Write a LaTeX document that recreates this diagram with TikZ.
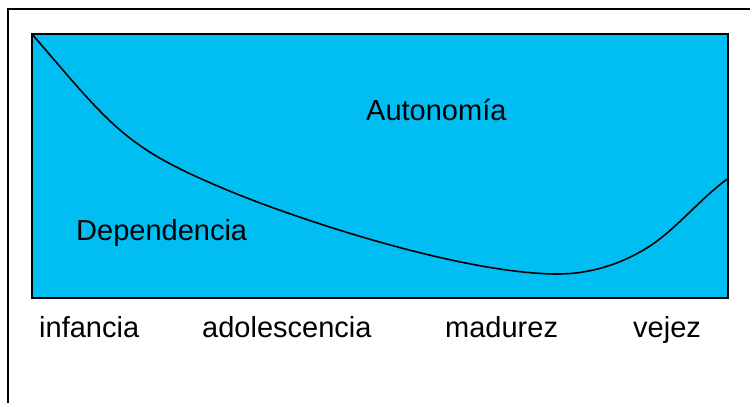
\documentclass[tikz,border=0pt]{standalone}
\usepackage{fontspec}
\setmainfont{Liberation Sans}
\definecolor{skyfill}{HTML}{00BEF2}
\begin{document}
\begin{tikzpicture}[x=1pt,y=-1pt,
  frame/.style={draw=black,line width=2pt},
  lbl/.style={anchor=base west,inner sep=0pt,font=\fontsize{29}{34}\selectfont}]
\useasboundingbox (0,0) rectangle (750,402);
\clip (0,0) rectangle (750,402);
\fill[white] (0,0) rectangle (750,402);
\draw[frame] (8,9) rectangle (770,420);
\draw[frame,fill=skyfill] (32,34) rectangle (728,298);
\draw[line width=1.6pt,line join=round]
  (32,34) .. controls (111,126) and (125,147) .. (220,187)
  .. controls (292,218) and (462,274) .. (558,274)
  .. controls (593,274) and (629,261.7) .. (657,241)
  .. controls (681,223.3) and (703.7,195.9) .. (728,178.5);
\node[lbl] (auto) at (366,120) {Autonomía};
\node[lbl] (dep) at (76,240) {Dependencia};
\node[lbl] (inf) at (39,337) {infancia};
\node[lbl] (ado) at (202,337) {adolescencia};
\node[lbl] (mad) at (445,337) {madurez};
\node[lbl] (vej) at (633,337) {vejez};
\end{tikzpicture}
\end{document}
